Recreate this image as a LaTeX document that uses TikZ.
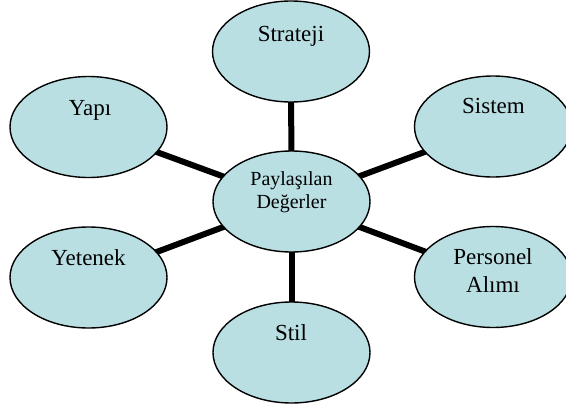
\documentclass[tikz,border=0pt]{standalone}
\usepackage{fontspec}
\setmainfont{Liberation Serif}
\usetikzlibrary{shapes.geometric,backgrounds}
\definecolor{bubblefill}{RGB}{185,223,227}
\begin{document}
\begin{tikzpicture}[x=1pt,y=-1pt,
  bubble/.style={ellipse,draw=black,line width=1.4pt,fill=bubblefill,
    minimum width=157pt,minimum height=101pt,inner sep=0pt},
  spoke/.style={line width=6pt,black},
  caption/.style={font=\fontsize{23}{28}\selectfont,anchor=base,inner sep=0pt},
  core/.style={font=\fontsize{20}{23}\selectfont,anchor=base,inner sep=0pt}]
\useasboundingbox (0,0) rectangle (566,407);

% ellipses
\node[bubble] (center)   at (291.5,201.5) {};
\node[bubble] (strateji) at (291,51.5) {};
\node[bubble] (yapi)     at (88.5,127) {};
\node[bubble] (yetenek)  at (88.5,277.5) {};
\node[bubble] (stil)     at (291.5,352.5) {};
\node[bubble] (sistem)   at (493,126.5) {};
\node[bubble] (personel) at (493,277) {};

% spokes behind the ellipses
\begin{scope}[on background layer]
  \foreach \n in {strateji,yapi,yetenek,stil,sistem,personel}
    \draw[spoke] (center.center) -- (\n.center);
\end{scope}

% labels
\node[caption] (tstrateji) at (291,41) {Strateji};
\node[caption] (tyapi)     at (90,115) {Yapı};
\node[caption] (tyetenek)  at (88.5,265) {Yetenek};
\node[caption] (tstil)     at (291,340) {Stil};
\node[caption] (tsistem)   at (493.5,113) {Sistem};
\node[caption] (tpers1)    at (493,264) {Personel};
\node[caption] (tpers2)    at (493,292) {Alımı};
\node[core] (tcore1) at (291.5,185) {Paylaşılan};
\node[core] (tcore2) at (291.5,208) {Değerler};
\end{tikzpicture}
\end{document}
